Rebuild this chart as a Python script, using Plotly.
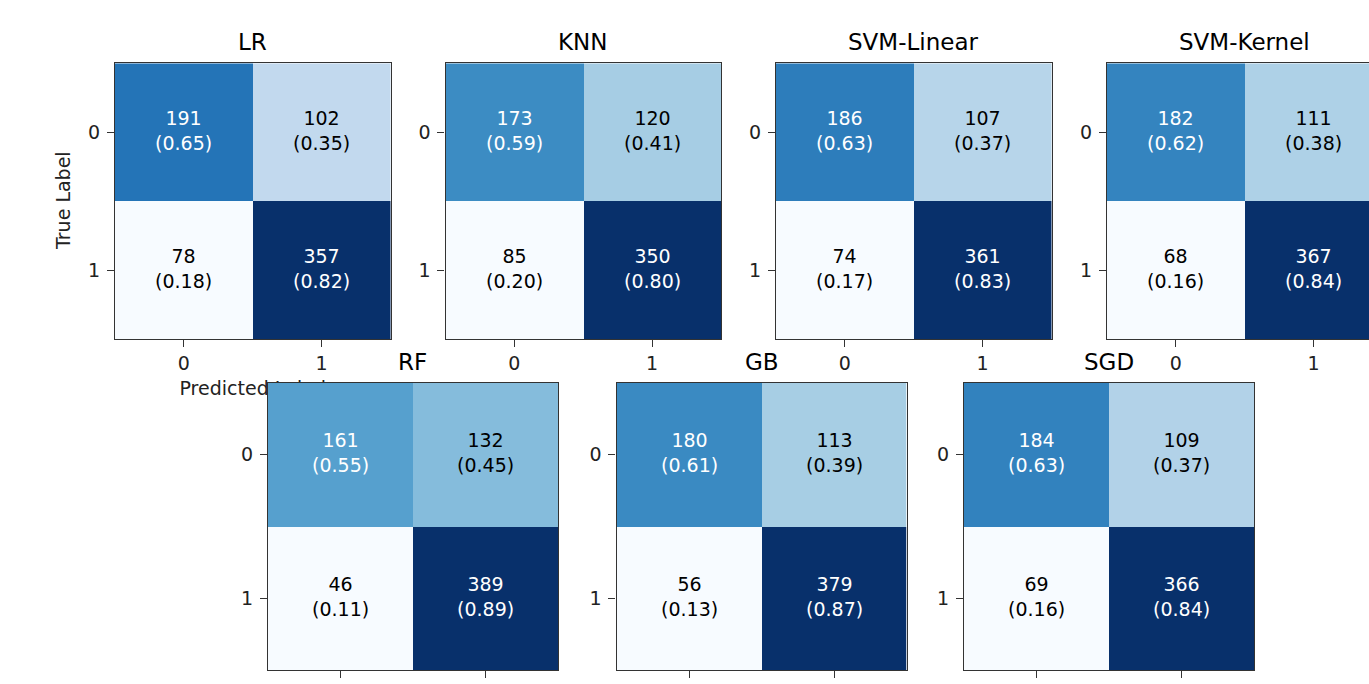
import plotly.graph_objects as go

# Confusion-matrix counts per classifier (rows: true 0/1, cols: predicted 0/1)
models = ["LR", "KNN", "SVM-Linear", "SVM-Kernel", "RF", "GB", "SGD"]
tn = [191, 173, 186, 182, 161, 180, 184]
fp = [102, 120, 107, 111, 132, 113, 109]
fn = [78, 85, 74, 68, 46, 56, 69]
tp = [357, 350, 361, 367, 389, 379, 366]
class_ticks = ["0", "1"]

W, H = 1369, 684
FONT = "DejaVu Sans"
BLUES = ["#f7fbff", "#deebf7", "#c6dbef", "#9ecae1", "#6baed6",
         "#4292c6", "#2171b5", "#08519c", "#08306b"]
blues_scale = [[i / (len(BLUES) - 1), c] for i, c in enumerate(BLUES)]
EDGE = "#333333"

# panel boxes in pixels: (left, right, top, bottom)
top_lefts = [115, 445.5, 776, 1107]
top_w = 275.5
bot_lefts = [268, 616.5, 964]
bot_w = 290
boxes = []
for l in top_lefts:
    boxes.append((l, l + top_w, 63.3, 339))
for l in bot_lefts:
    boxes.append((l, l + bot_w, 382.5, 670))

fig = go.Figure()
annotations = []

for k, name in enumerate(models):
    counts = [[tn[k], fp[k]], [fn[k], tp[k]]]
    norm = [[c / sum(row) for c in row] for row in counts]
    flat = [v for row in norm for v in row]
    lo, hi = min(flat), max(flat)
    thresh = (lo + hi) / 2

    sfx = "" if k == 0 else str(k + 1)
    xa, ya = "x" + sfx, "y" + sfx
    l, r, t, b = boxes[k]
    full_w = top_w if k < 4 else bot_w
    r_clip = min(r, W)
    x_hi = -0.5 + 2 * (r_clip - l) / full_w

    fig.add_trace(go.Heatmap(
        z=norm, x=[0, 1], y=[0, 1], xaxis=xa, yaxis=ya,
        colorscale=blues_scale, zmin=lo, zmax=hi, showscale=False,
        hoverinfo="skip",
    ))

    clipped = r_clip < r
    ax_common = dict(showgrid=False, zeroline=False, showline=True,
                     linecolor=EDGE, linewidth=1.3, ticks="outside",
                     ticklen=7, tickwidth=1.3, tickcolor=EDGE,
                     tickfont=dict(family=FONT, size=19, color="#222"),
                     tickvals=[0, 1], ticktext=class_ticks, fixedrange=True)
    xkey = "xaxis" + sfx
    ykey = "yaxis" + sfx
    fig.update_layout(**{
        xkey: dict(ax_common, domain=[l / W, r_clip / W], range=[-0.5, x_hi],
                   anchor=ya, mirror=True, showticklabels=(k < 4)),
        ykey: dict(ax_common, domain=[1 - b / H, 1 - t / H], range=[1.5, -0.5],
                   anchor=xa, mirror=not clipped, ticklabelstandoff=3),
    })

    for i in range(2):
        for j in range(2):
            v = norm[i][j]
            annotations.append(dict(
                x=j, y=i, xref=xa, yref=ya, showarrow=False, yshift=2,
                text=f"{counts[i][j]}<br>({v:.2f})",
                font=dict(family=FONT, size=19,
                          color="white" if v > thresh else "black"),
            ))

    annotations.append(dict(
        x=(l + r) / 2 / W, y=1 - (t - 6) / H, xref="paper", yref="paper",
        xanchor="center", yanchor="bottom", showarrow=False, text=name,
        font=dict(family=FONT, size=23, color="black"),
    ))

# y-axis label of the first panel
annotations.append(dict(
    x=63 / W, y=1 - 201 / H, xref="paper", yref="paper", textangle=-90,
    xanchor="center", yanchor="middle",
    showarrow=False, text="True Label",
    font=dict(family=FONT, size=19, color="#222"),
))

# x-axis label of the first panel, drawn in its own subplot layer so the
# panels of the second row sit on top of it
fig.add_trace(go.Scatter(
    x=[0.5], y=[1.5], xaxis="x", yaxis="y", mode="text",
    text=["<br><span style='font-size:19px'>Predicted Label</span>"],
    textposition="bottom center", cliponaxis=False,
    textfont=dict(family=FONT, size=27.5, color="#222"),
    hoverinfo="skip", showlegend=False,
))

fig.update_layout(
    width=W, height=H, margin=dict(l=0, r=0, t=0, b=0),
    paper_bgcolor="white", plot_bgcolor="white",
    annotations=annotations, showlegend=False,
)

fig.write_html("out.html", config={"displayModeBar": False})
